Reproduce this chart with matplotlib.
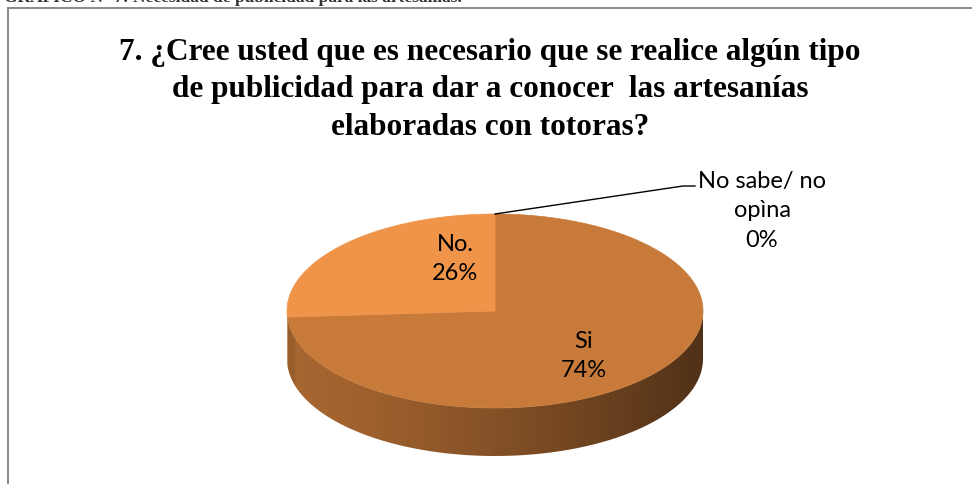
import matplotlib.pyplot as plt
import numpy as np
from matplotlib.patches import Polygon
from matplotlib.lines import Line2D
from matplotlib.colors import to_rgb

# data
labels = ["Si", "No.", "No sabe/ no\nopìna"]
values = [74, 26, 0]
colors = ["#C87A3A", "#F0944A", "#A0A0A0"]
title = ("7. ¿Cree usted que es necesario que se realice algún tipo\n"
         "de publicidad para dar a conocer  las artesanías\n"
         "elaboradas con totoras?")

# layout (pixels)
W, H = 972, 485
cx, cy, a, b, depth = 495, 312, 208, 97, 48
label_pos = [(584, 356), (455, 259), (762, 211)]

fig = plt.figure(figsize=(W / 100, H / 100), dpi=100)
ax = fig.add_axes([0, 0, 1, 1])
ax.set_xlim(0, W)
ax.set_ylim(H, 0)
ax.axis("off")


def ell(theta, dy=0.0):
    t = np.radians(theta)
    return np.column_stack([cx + a * np.cos(t), cy - b * np.sin(t) + dy])


# slice angles, clockwise from 12 o'clock
total = sum(values)
starts, ends = [], []
ang = 90.0
for v in values:
    starts.append(ang)
    ang -= 360.0 * v / total
    ends.append(ang)

# side walls (only the front half is visible)
xs = np.linspace(cx - a, cx + a, 400)
tt = (xs - (cx - a)) / (2 * a)
shade = 0.84 - 0.44 * tt ** 1.3
shade[tt < 0.02] *= 0.92
for s, e, c in zip(starts, ends, colors):
    if s == e:
        continue
    lo, hi = e, s
    for k in (-720, -360, 0, 360):
        l2, h2 = max(lo + k, 180), min(hi + k, 360)
        if h2 <= l2:
            continue
        th = np.linspace(l2, h2, 120)
        top = ell(th)
        bot = ell(th[::-1], depth)
        poly = Polygon(np.vstack([top, bot]), closed=True, facecolor="none",
                       edgecolor="none")
        ax.add_patch(poly)
        rgb = np.array(to_rgb(c))
        img = (shade[None, :, None] * rgb[None, None, :]).clip(0, 1)
        im = ax.imshow(img, extent=[cx - a, cx + a, cy + b + depth + 2, cy - 2],
                       aspect="auto", interpolation="bilinear", zorder=1)
        im.set_clip_path(poly)

# top faces
for s, e, c in zip(starts, ends, colors):
    if s == e:
        continue
    th = np.linspace(s, e, 200)
    pts = np.vstack([[cx, cy], ell(th)])
    ax.add_patch(Polygon(pts, closed=True, facecolor=c, edgecolor=c,
                         linewidth=0.5, zorder=2))

# labels
lab_font = dict(family=["Lato", "DejaVu Sans"], fontsize=17, color="black",
                ha="center", va="center", linespacing=1.5, zorder=5)
for lab, v, (lx, ly) in zip(labels, values, label_pos):
    ax.text(lx, ly, f"{lab}\n{v}%", **lab_font)

# leader line for the 0% slice
p0 = ell(starts[2])[0]
ax.add_line(Line2D([p0[0], 683, 695], [p0[1], 187, 187], color="black",
                   linewidth=1.0, zorder=4))

# title
ax.text(490, 90, title, family=["Liberation Serif", "DejaVu Serif"],
        fontweight="bold", fontsize=22.5, ha="center", va="center",
        linespacing=1.38, zorder=5)

# chart frame (only top and left edges fall inside the crop)
ax.add_line(Line2D([8, W], [9, 9], color="#8a8a8a", linewidth=1.4))
ax.add_line(Line2D([8, 8], [9, H], color="#8a8a8a", linewidth=1.4))

# caption of the page above, cut off by the crop
ax.text(4, 1.5, "GRÁFICO N° 7: Necesidad de publicidad para las artesanías.",
        family=["Liberation Serif", "DejaVu Serif"], fontweight="bold",
        fontsize=12.5, ha="left", va="baseline", color="#333333")

fig.savefig("out.png", dpi=100)
